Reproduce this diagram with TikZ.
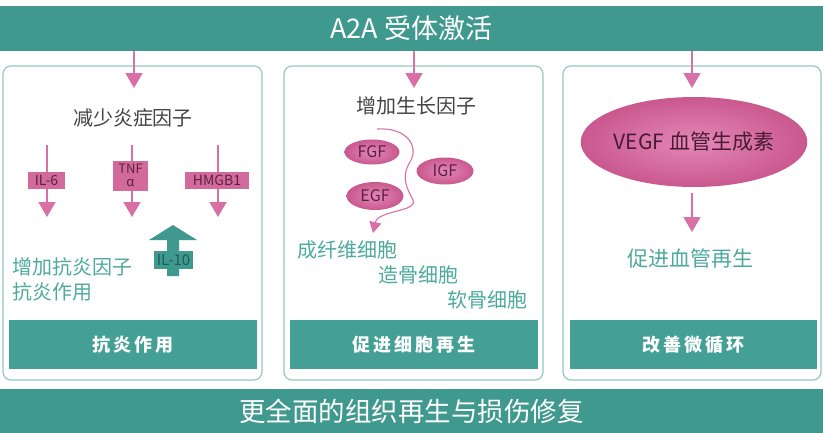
\documentclass[tikz,border=0pt]{standalone}
\usepackage{fontspec}
\setmainfont{Noto Sans CJK SC}
\usetikzlibrary{arrows.meta,shapes.geometric,calc}
\definecolor{tealbar}{HTML}{40998F}
\definecolor{tealbox}{HTML}{44A095}
\definecolor{tealtext}{HTML}{4DAA9D}
\definecolor{tealdark}{HTML}{1E5C54}
\definecolor{panelline}{HTML}{92C9C0}
\definecolor{pinkline}{HTML}{D870A6}
\definecolor{pinkbox}{HTML}{D26B9C}
\definecolor{pinktext}{HTML}{5C2242}
\definecolor{pinkin}{HTML}{E488B6}
\definecolor{pinkout}{HTML}{C9588F}
\definecolor{darktext}{HTML}{444444}
\newcommand{\fs}[1]{\fontsize{#1}{#1}\selectfont}
\begin{document}
\begin{tikzpicture}[x=1pt,y=-1pt,
  bar/.style={fill=tealbar, text=white, inner sep=0pt},
  panel/.style={draw=panelline, line width=1.2pt, rounded corners=8pt, fill=white, inner sep=0pt},
  footbox/.style={fill=tealbox, text=white, inner sep=0pt, minimum height=49pt, font=\fs{18}\bfseries},
  parrow/.style={draw=pinkline, line width=1.6pt, -{Triangle[width=17pt,length=15pt]}},
  plabel/.style={fill=pinkbox, text=pinktext, inner sep=1pt, font=\fs{14}, minimum height=17pt},
  gftext/.style={text=tealtext, font=\fs{20}, inner sep=0pt},
  blob/.style={ellipse, shading=radial, inner color=pinkin, outer color=pinkout, text=pinktext, inner sep=0pt, font=\fs{16}}
]
\useasboundingbox (0,0) rectangle (823,432);
\fill[white] (0,0) rectangle (823,432);

% top and bottom bars
\node[bar, minimum width=823pt, minimum height=45pt, font=\fs{27}] (top) at (411.5,28) {A2A 受体激活};
\node[bar, minimum width=823pt, minimum height=44pt, font=\fs{26.5}] (bottom) at (411.5,411) {更全面的组织再生与损伤修复};

% panels
\node[panel, minimum width=259pt, minimum height=314pt] (p1) at (132.5,223) {};
\node[panel, minimum width=259pt, minimum height=314pt] (p2) at (413.5,223) {};
\node[panel, minimum width=258pt, minimum height=314pt] (p3) at (692,223) {};

\node[footbox, minimum width=248pt] (f1) at (133,344.5) {抗\,炎\,作\,用};
\node[footbox, minimum width=248pt] (f2) at (414,344.5) {促\,进\,细\,胞\,再\,生};
\node[footbox, minimum width=247pt] (f3) at (693.5,344.5) {改\,善\,微\,循\,环};

% top arrows
\coordinate (a1) at (134,88);
\coordinate (a2) at (414,88);
\coordinate (a3) at (692,88);
\draw[parrow] (top.south -| a1) -- (a1);
\draw[parrow] (top.south -| a2) -- (a2);
\draw[parrow] (top.south -| a3) -- (a3);

% panel 1
\node[text=darktext, font=\fs{20}, inner sep=0pt] (t1) at (133,118) {减少炎症因子};
\coordinate (s1) at (47,145); \coordinate (e1) at (47,217);
\coordinate (s2) at (132,145); \coordinate (e2) at (132,217);
\coordinate (s3) at (218,145); \coordinate (e3) at (218,217);
\draw[parrow] (s1) -- (e1);
\draw[parrow] (s2) -- (e2);
\draw[parrow] (s3) -- (e3);
\node[plabel, minimum width=37pt] (il6) at (46.5,180) {IL-6};
\node[plabel, minimum width=35pt, minimum height=30pt, align=center, font={\fontsize{13}{13}\selectfont}] (tnf) at (130.5,175.5) {TNF\\α};
\node[plabel, minimum width=64pt] (hmgb) at (217,180) {HMGB1};

\fill[tealbar] (173,225) -- (197,240) -- (179,240) -- (179,276) -- (167,276) -- (167,240) -- (149,240) -- cycle;
\node[fill=tealbar, text=tealdark, inner sep=0pt, minimum width=39pt, minimum height=18pt, font=\fs{15}] (il10) at (173.5,260) {IL-10};

\node[gftext, anchor=west] (g1) at (12,267) {增加抗炎因子};
\node[gftext, anchor=west] (g2) at (12,292) {抗炎作用};

% panel 2
\node[text=darktext, font=\fs{20}, inner sep=0pt] (t2) at (416,106) {增加生长因子};
\node[blob, minimum width=55pt, minimum height=25pt] (fgf) at (372,152) {FGF};
\node[blob, minimum width=57pt, minimum height=27pt] (igf) at (445,171) {IGF};
\node[blob, minimum width=57pt, minimum height=28pt] (egf) at (375,196) {EGF};
\coordinate (c0) at (377,129);
\coordinate (c1) at (373,233);
\draw[draw=pinkline, line width=1.1pt, -{Triangle[width=12pt,length=11pt]}]
  (c0) .. controls (405,127) and (420,145) .. (410,162)
       .. controls (400,178) and (408,190) .. (413,200)
       .. controls (418,212) and (378,210) .. (c1);
\node[gftext, anchor=west] (c1t) at (297,250) {成纤维细胞};
\node[gftext, anchor=west] (c2t) at (378,275) {造骨细胞};
\node[gftext, anchor=west] (c3t) at (447,300) {软骨细胞};

% panel 3
\node[blob, minimum width=208pt, minimum height=90pt, font=\fs{21}, text=pinktext!80!black] (vegf) at (694,142) {VEGF 血管生成素};
\coordinate (v1) at (692,232);
\draw[parrow] (vegf.south -| v1) ++(0,6) -- (v1);
\node[gftext, font=\fs{21}] (t3) at (690,258) {促进血管再生};
\end{tikzpicture}
\end{document}
